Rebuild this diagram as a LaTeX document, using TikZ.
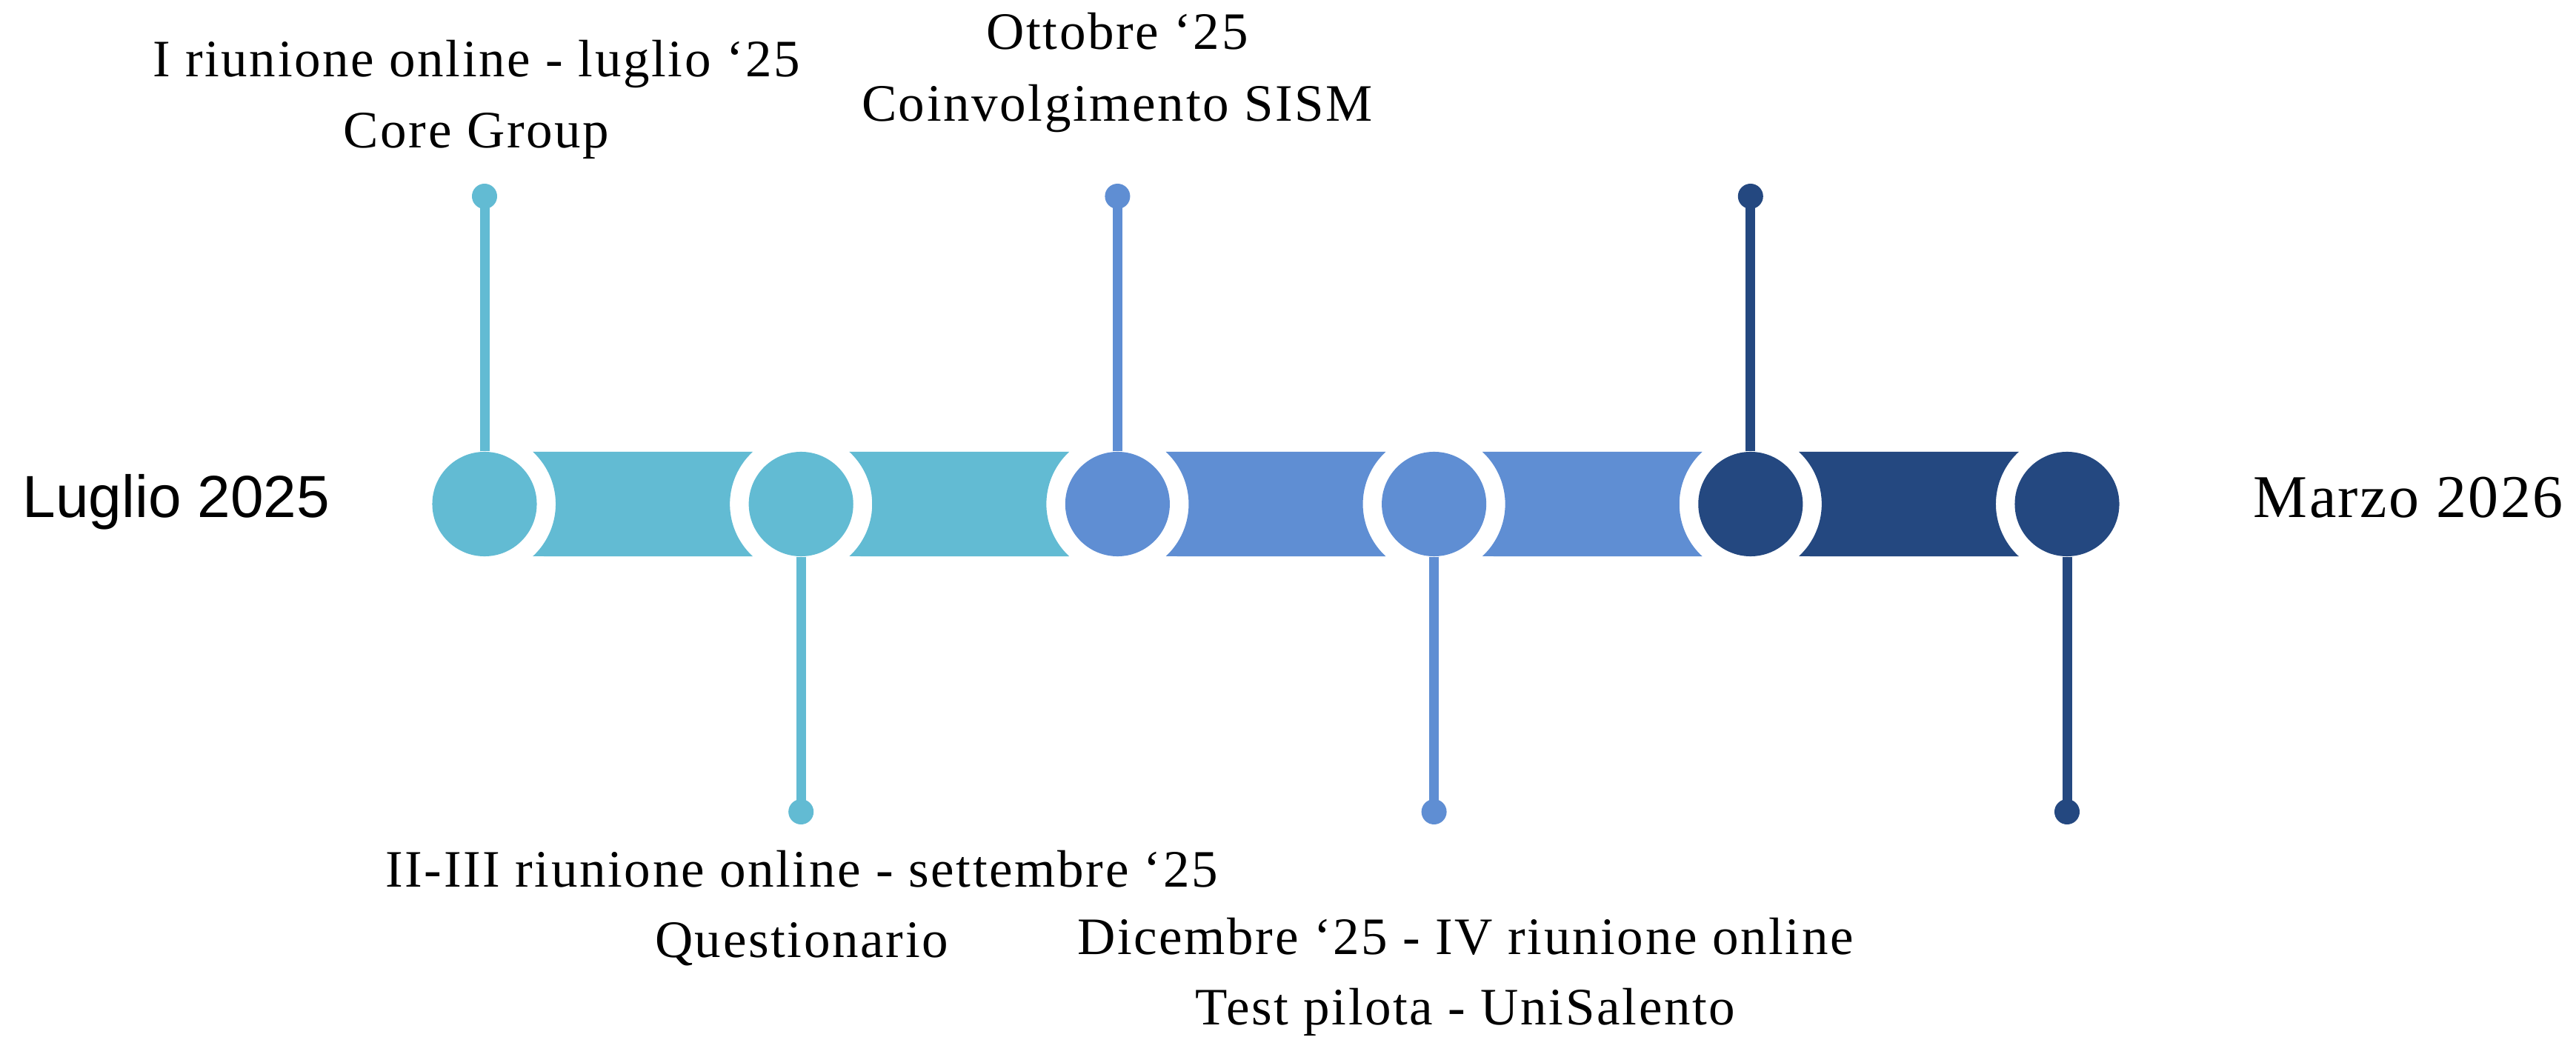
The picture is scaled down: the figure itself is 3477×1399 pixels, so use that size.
\documentclass[tikz,border=0pt]{standalone}
\usepackage{fontspec}
\newfontfamily\labfont[LetterSpace=3.7]{Liberation Serif}
\newfontfamily\endfont[LetterSpace=3]{Liberation Serif}
\newfontfamily\sansfont{Liberation Sans}
\definecolor{cteal}{RGB}{98,187,211}
\definecolor{cblue}{RGB}{95,142,211}
\definecolor{cnavy}{RGB}{36,72,128}
\begin{document}
\begin{tikzpicture}[x=0.01cm,y=0.01cm,
  bigdot/.style={circle,fill=#1,draw=none,minimum size=1.41cm,inner sep=0pt},
  smalldot/.style={circle,fill=#1,draw=none,minimum size=0.34cm,inner sep=0pt},
  stem/.style={draw=#1,line width=0.13cm},
  lab/.style={anchor=base,inner sep=0pt,font=\labfont\fontsize{20.2pt}{24pt}\selectfont},
  endlab/.style={anchor=base west,inner sep=0pt}]
\useasboundingbox (0,0) rectangle (3477,1399);
% connectors (concave bars)
\foreach \a/\b/\col in {654/1081.2/cteal,1081.2/1508.4/cteal,1508.4/1935.6/cblue,1935.6/2362.8/cblue,2362.8/2790/cnavy}{
  \fill[\col] (\a+65.2,789) -- (\b-65.2,789)
     arc[start angle=132.76,end angle=227.24,radius=0.96cm]
     -- (\a+65.2,648)
     arc[start angle=-47.24,end angle=47.24,radius=0.96cm] -- cycle;
}
% big circles
\node[bigdot=cteal] (c1) at (654,718.5) {};
\node[bigdot=cteal] (c2) at (1081.2,718.5) {};
\node[bigdot=cblue] (c3) at (1508.4,718.5) {};
\node[bigdot=cblue] (c4) at (1935.6,718.5) {};
\node[bigdot=cnavy] (c5) at (2362.8,718.5) {};
\node[bigdot=cnavy] (c6) at (2790,718.5) {};
% small dots
\node[smalldot=cteal] (d1) at (654,1134) {};
\node[smalldot=cteal] (d2) at (1081.2,303) {};
\node[smalldot=cblue] (d3) at (1508.4,1134) {};
\node[smalldot=cblue] (d4) at (1935.6,303) {};
\node[smalldot=cnavy] (d5) at (2362.8,1134) {};
\node[smalldot=cnavy] (d6) at (2790,303) {};
% stems
\draw[stem=cteal] (c1.north) -- (d1.center);
\draw[stem=cteal] (c2.south) -- (d2.center);
\draw[stem=cblue] (c3.north) -- (d3.center);
\draw[stem=cblue] (c4.south) -- (d4.center);
\draw[stem=cnavy] (c5.north) -- (d5.center);
\draw[stem=cnavy] (c6.south) -- (d6.center);
% labels
\node[lab] (t1a) at (643,1295) {I riunione online - luglio ‘25};
\node[lab] (t1b) at (643,1199) {Core Group};
\node[lab] (t3a) at (1508,1332) {Ottobre ‘25};
\node[lab] (t3b) at (1508,1235) {Coinvolgimento SISM};
\node[lab] (t2a) at (1082,202) {II-III riunione online - settembre ‘25};
\node[lab] (t2b) at (1082,107) {Questionario};
\node[lab] (t4a) at (1978,111) {Dicembre ‘25 - IV riunione online};
\node[lab] (t4b) at (1978,16) {Test pilota - UniSalento};
\node[endlab,font=\sansfont\fontsize{22.8pt}{26pt}\selectfont] (start) at (30,700) {Luglio 2025};
\node[endlab,font=\endfont\fontsize{23.3pt}{27pt}\selectfont] (end) at (3041,700) {Marzo 2026};
\end{tikzpicture}
\end{document}
